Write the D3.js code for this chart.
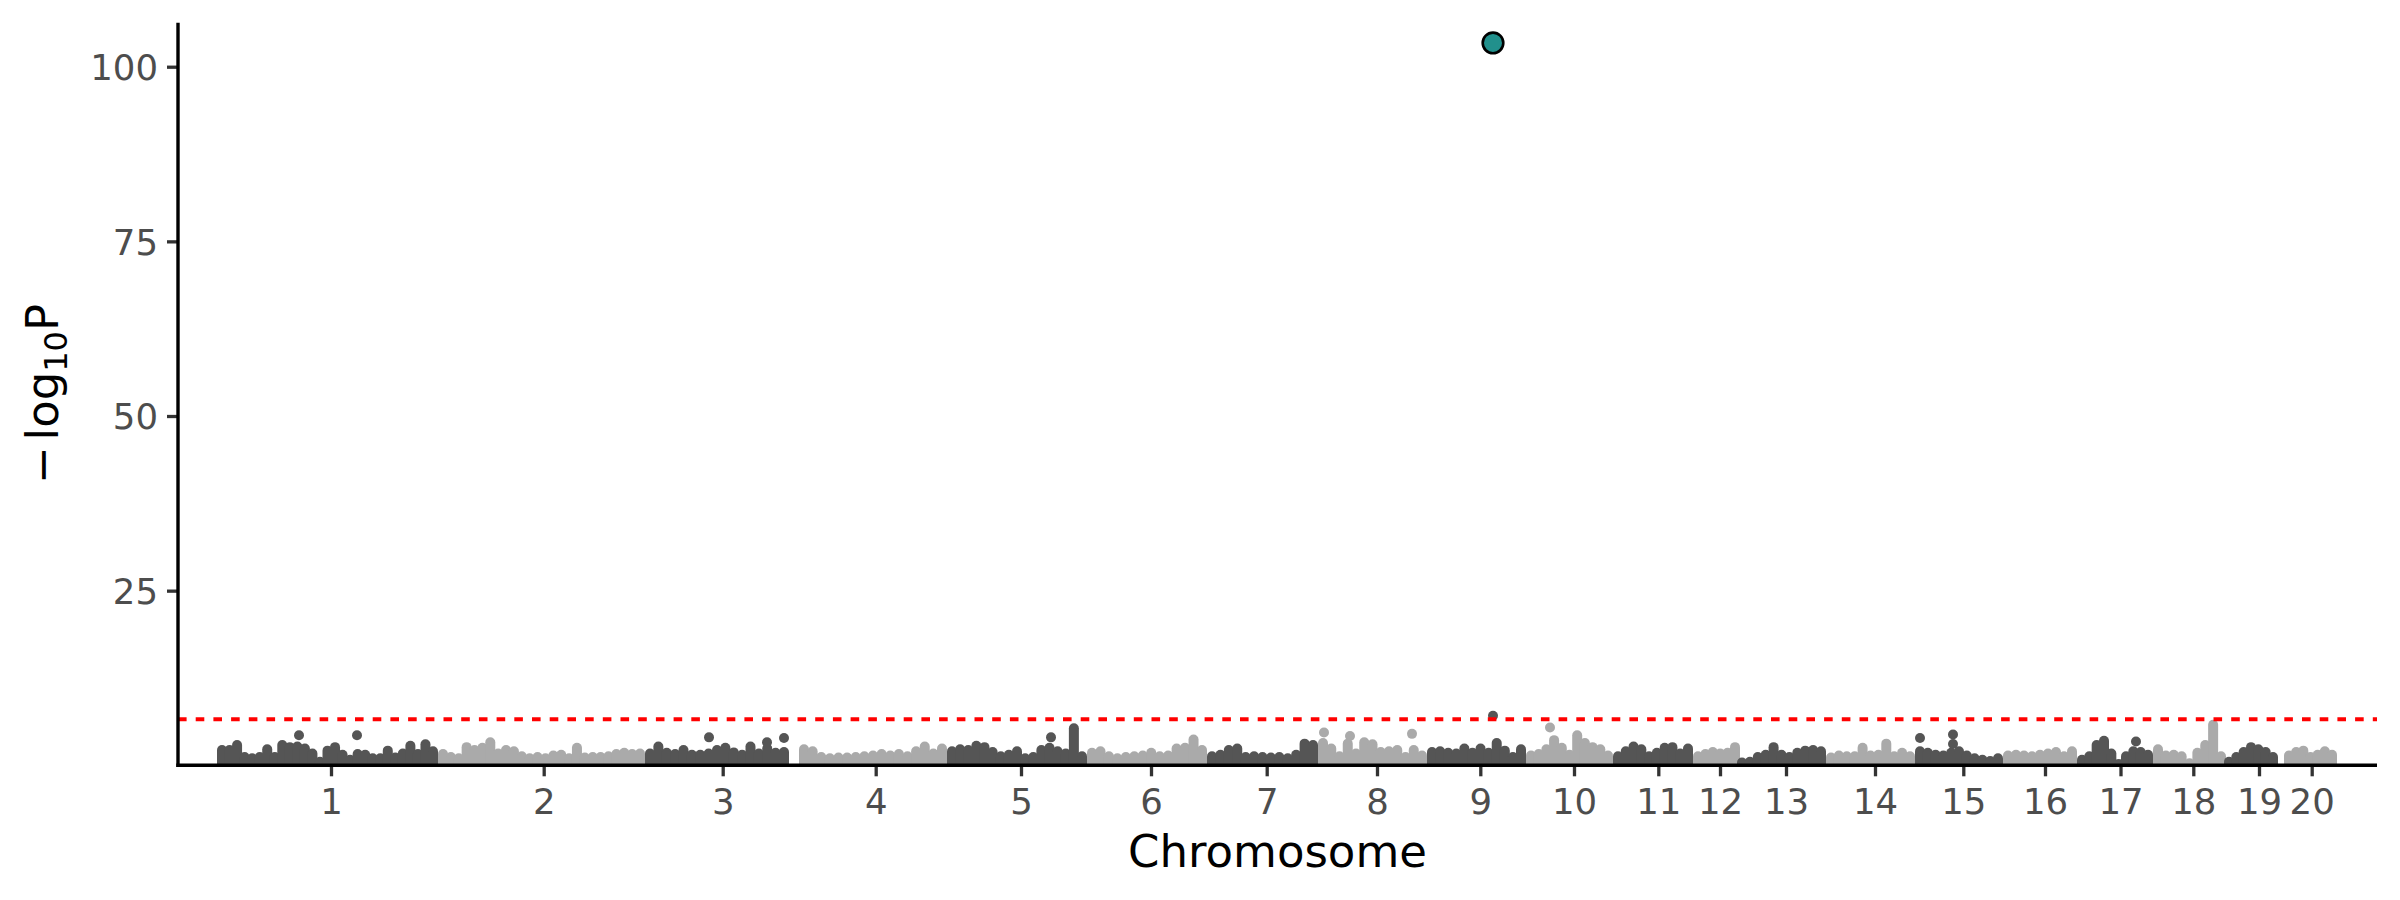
<!DOCTYPE html>
<html>
<head>
<meta charset="utf-8">
<script src="https://cdn.jsdelivr.net/npm/d3@7"></script>
<style>
  body { margin: 0; background: #ffffff; }
  svg { display: block; }
  text { font-family: "DejaVu Sans", sans-serif; }
</style>
</head>
<body>
<svg id="chart" width="2400" height="900"></svg>
<script>
// ---------------- data ----------------
const chromosomes = ["1","2","3","4","5","6","7","8","9","10","11","12","13","14","15","16","17","18","19","20"];
// cumulative genome position (units of 100 kb) where each chromosome's SNPs start / end
const chrStart = [44, 265, 472, 626, 774, 914, 1034, 1145, 1254, 1353, 1440, 1520, 1564, 1653, 1742, 1830, 1904, 1980, 2051, 2111];
const chrEnd   = [255, 462, 606, 764, 904, 1024, 1135, 1244, 1343, 1430, 1510, 1557, 1643, 1732, 1820, 1894, 1970, 2043, 2095, 2154];
// axis tick position for each chromosome label
const tickPos  = [153, 365.7, 544.7, 697.7, 843, 973, 1088.7, 1199, 1302.3, 1396, 1480.3, 1542, 1608, 1697, 1785.3, 1867, 1942.5, 2015.3, 2081, 2133.7];
const genomeMax = 2199;

// upper envelope of -log10(P), evenly spaced along each chromosome
const chr1  = [2.2, 2.2, 2.9, 1.2, 1.0, 1.2, 2.3, 1.2, 2.9, 2.6, 2.7, 2.4, 1.7, 0.5, 2.1, 2.6, 1.5, 0.8, 1.6, 1.5, 1.0, 1.0, 2.1, 1.1, 1.7, 2.8, 1.6, 3.0, 2.0];
const chr2  = [1.6, 1.2, 1.0, 2.6, 2.2, 2.5, 3.3, 1.7, 2.2, 2.0, 1.3, 1.0, 1.2, 1.0, 1.4, 1.5, 1.0, 2.5, 1.1, 1.2, 1.2, 1.3, 1.6, 1.8, 1.6, 1.7];
const chr3  = [1.7, 2.7, 1.8, 1.6, 2.2, 1.5, 1.5, 1.7, 2.2, 2.5, 1.85, 1.5, 2.7, 1.7, 2.4, 1.8, 1.9];
const chr4  = [2.3, 2.0, 1.2, 1.0, 1.1, 1.1, 1.2, 1.3, 1.4, 1.6, 1.4, 1.6, 1.3, 2.0, 2.7, 1.7, 2.4];
const chr5  = [2.0, 2.3, 2.2, 2.8, 2.6, 1.9, 1.3, 1.5, 2.0, 1.0, 1.2, 2.2, 2.5, 2.0, 1.7, 5.3, 1.3];
const chr6  = [1.8, 2.0, 1.3, 1.0, 1.2, 1.3, 1.4, 1.8, 1.3, 1.4, 2.4, 2.5, 3.7, 2.2];
const chr7  = [1.3, 1.5, 2.2, 2.4, 1.2, 1.3, 1.2, 1.1, 1.2, 1.0, 1.5, 3.1, 2.9];
const chr8  = [3.2, 2.4, 1.3, 3.1, 1.7, 3.3, 3.0, 1.9, 2.0, 2.2, 1.2, 2.2, 1.4];
const chr9  = [1.9, 2.0, 1.8, 1.7, 2.4, 1.8, 2.4, 1.8, 3.2, 2.1, 1.2, 2.3];
const chr10 = [1.4, 1.6, 2.3, 3.6, 2.5, 1.5, 4.3, 3.2, 2.6, 2.3, 1.4];
const chr11 = [1.3, 2.0, 2.7, 2.3, 1.3, 1.8, 2.5, 2.6, 1.7, 2.4];
const chr12 = [1.3, 1.6, 1.9, 1.7, 1.8, 2.6];
const chr13 = [0.4, 0.5, 1.2, 1.5, 2.6, 1.5, 1.2, 1.8, 2.1, 2.2, 2.0];
const chr14 = [1.1, 1.4, 1.3, 1.3, 2.5, 1.4, 1.5, 3.1, 1.3, 1.8, 1.3];
const chr15 = [2.0, 1.8, 1.5, 1.4, 1.8, 2.0, 1.4, 1.0, 0.8, 0.6, 1.0];
const chr16 = [1.4, 1.5, 1.4, 1.3, 1.5, 1.7, 1.9, 1.3, 2.0];
const chr17 = [0.8, 1.3, 2.9, 3.5, 1.7, 0.2, 1.3, 2.0, 1.9, 1.5];
const chr18 = [2.3, 1.4, 1.5, 1.3, 0.3, 1.8, 2.9, 5.8, 1.3];
const chr19 = [0.5, 1.2, 1.9, 2.6, 2.3, 1.9, 1.2];
const chr20 = [1.4, 1.9, 2.1, 1.2, 1.5, 2.0, 1.5];
const profiles = [chr1, chr2, chr3, chr4, chr5, chr6, chr7, chr8, chr9, chr10,
                  chr11, chr12, chr13, chr14, chr15, chr16, chr17, chr18, chr19, chr20];

// isolated SNPs standing above the envelope
const outlierChr = [1, 1, 3, 3, 3, 5, 8, 8, 8, 9, 10, 15, 15, 15, 17];
const outlierPos = [121, 179, 531, 589, 606, 873, 1146, 1172, 1234, 1315, 1372, 1742, 1775, 1775, 1958];
const outlierVal = [4.3, 4.3, 4.0, 3.3, 3.9, 4.0, 4.7, 4.2, 4.5, 7.1, 5.4, 3.9, 4.4, 3.05, 3.4];

// lead SNP
const leadChr = 9;
const leadPos = 1315;
const leadVal = 103.4;

const threshold = 6.59;
const yTicks = [25, 50, 75, 100];
const yMax = 106.3;

const colDark = "#555555", colLight = "#aaaaaa";

// ---------------- layout ----------------
const svg = d3.select("#chart");
const L = 178, R = 2377, T = 22.7, B = 765.3;

const x = d3.scaleLinear().domain([0, genomeMax]).range([L, R]);
const y = d3.scaleLinear().domain([0, yMax]).range([B, T]);
const chrColor = c => (c % 2 === 1 ? colDark : colLight);

svg.append("defs").append("clipPath").attr("id", "panel")
  .append("rect").attr("x", L).attr("y", 0).attr("width", R - L).attr("height", B);

const panel = svg.append("g").attr("clip-path", "url(#panel)");

// dense SNP mass: each sample is a column of overlapping points (rounded top = point radius)
const cols = [];
profiles.forEach((vals, ci) => {
  const n = vals.length;
  vals.forEach((v, i) => {
    const pos = chrStart[ci] + (chrEnd[ci] - chrStart[ci]) * (n === 1 ? 0.5 : i / (n - 1));
    cols.push({ chr: ci + 1, pos, v });
  });
});

panel.selectAll("line.snp").data(cols).join("line")
  .attr("class", "snp")
  .attr("x1", d => x(d.pos)).attr("x2", d => x(d.pos))
  .attr("y1", y(0) + 8).attr("y2", d => y(d.v))
  .attr("stroke", d => chrColor(d.chr))
  .attr("stroke-width", 10)
  .attr("stroke-linecap", "round");

const outliers = outlierChr.map((c, i) => ({ chr: c, pos: outlierPos[i], v: outlierVal[i] }));
panel.selectAll("circle.out").data(outliers).join("circle")
  .attr("class", "out")
  .attr("cx", d => x(d.pos)).attr("cy", d => y(d.v)).attr("r", 5)
  .attr("fill", d => chrColor(d.chr));

// significance threshold
svg.append("line")
  .attr("x1", L).attr("x2", R)
  .attr("y1", y(threshold)).attr("y2", y(threshold))
  .attr("stroke", "#ff0000").attr("stroke-width", 4)
  .attr("stroke-dasharray", "8.6,9.1");

// lead SNP
svg.append("circle")
  .attr("cx", x(leadPos)).attr("cy", y(leadVal)).attr("r", 10.3)
  .attr("fill", "#21908C").attr("stroke", "#000").attr("stroke-width", 2.6);

// ---------------- axes ----------------
const xAxis = d3.axisBottom(x).tickValues(tickPos)
  .tickFormat((d, i) => chromosomes[i]).tickSize(11).tickPadding(12);
const gx = svg.append("g").attr("transform", `translate(0,${B})`).call(xAxis);
gx.select(".domain").remove();
gx.selectAll(".tick line").attr("stroke", "#333333").attr("stroke-width", 3.3);
gx.selectAll(".tick text").attr("fill", "#4d4d4d").attr("font-size", 35.5)
  .attr("font-family", "DejaVu Sans, sans-serif");

const yAxis = d3.axisLeft(y).tickValues(yTicks).tickSize(11).tickPadding(9);
const gy = svg.append("g").attr("transform", `translate(${L},0)`).call(yAxis);
gy.select(".domain").remove();
gy.selectAll(".tick line").attr("stroke", "#333333").attr("stroke-width", 3.3);
gy.selectAll(".tick text").attr("fill", "#4d4d4d").attr("font-size", 35.5)
  .attr("dy", "0.36em").attr("font-family", "DejaVu Sans, sans-serif");

// axis lines
svg.append("line").attr("x1", L - 1.7).attr("x2", R).attr("y1", B).attr("y2", B)
  .attr("stroke", "#000").attr("stroke-width", 3.4);
svg.append("line").attr("x1", L).attr("x2", L).attr("y1", T).attr("y2", B + 1.7)
  .attr("stroke", "#000").attr("stroke-width", 3.4);

// axis titles
svg.append("text")
  .attr("x", (L + R) / 2).attr("y", 867)
  .attr("text-anchor", "middle").attr("font-size", 45).attr("fill", "#000")
  .text("Chromosome");

const yt = svg.append("text")
  .attr("transform", `translate(58,${(T + B) / 2}) rotate(-90)`)
  .attr("text-anchor", "middle").attr("font-size", 45).attr("fill", "#000");
yt.append("tspan").text("\u2212");
yt.append("tspan").attr("dx", 6).text("log");
yt.append("tspan").attr("font-size", 32).attr("dy", 9).text("10");
yt.append("tspan").attr("dy", -9).text("P");
</script>
</body>
</html>
